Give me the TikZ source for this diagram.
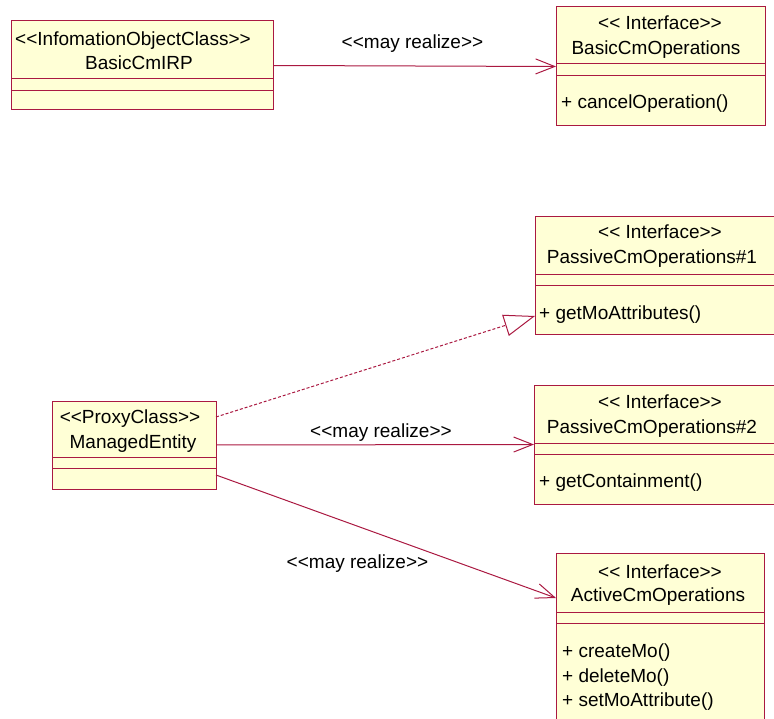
\documentclass[tikz,border=0pt]{standalone}
\usepackage{fontspec}
\newfontfamily\umlfont{Liberation Sans}
\usetikzlibrary{arrows.meta}
\definecolor{umlline}{RGB}{170,25,65}
\definecolor{umlfill}{RGB}{255,255,214}
\tikzset{
  umlbox/.style={draw=umlline, fill=umlfill, line width=1pt, anchor=north west, inner sep=0pt, outer sep=0pt, rectangle},
  sepline/.style={draw=umlline, line width=1pt},
  txt/.style={inner sep=0pt, anchor=base, font=\umlfont\fontsize{19}{23}\selectfont, text=black},
  optxt/.style={txt, anchor=base west},
  conn/.style={draw=umlline, line width=1pt},
  realize/.style={conn, -{Straight Barb[length=19pt,width=15pt,line width=1pt]}},
  generalize/.style={conn, dash pattern=on 3pt off 2pt, -{Triangle[open,length=31pt,width=22pt,line width=1pt,fill=white]}}
}
\begin{document}
\begin{tikzpicture}[x=1pt,y=-1pt]
\useasboundingbox (0,0) rectangle (774,719);
\clip (0,0) rectangle (774,719);

% Boxes
\node[umlbox, minimum width=262pt, minimum height=89pt] (irp) at (11,21) {};
\node[umlbox, minimum width=209pt, minimum height=119pt] (bops) at (556,7) {};
\node[umlbox, minimum width=250pt, minimum height=118pt] (p1) at (535,217) {};
\node[umlbox, minimum width=164pt, minimum height=88pt] (me) at (52,401) {};
\node[umlbox, minimum width=251pt, minimum height=119pt] (p2) at (534,385) {};
\node[umlbox, minimum width=208pt, minimum height=200pt] (act) at (556,553) {};

% Separators
\foreach \b/\a/\c in {irp/58/70, bops/57/69, p1/58/69, me/56/67, p2/58/69, act/59/70}{
  \draw[sepline] ([yshift=-\a pt]\b.north west) -- ([yshift=-\a pt]\b.north east);
  \draw[sepline] ([yshift=-\c pt]\b.north west) -- ([yshift=-\c pt]\b.north east);
}

% Texts
\node[txt] (irpS) at (133,46) {<<InfomationObjectClass>>};
\node[txt] (irpN) at (139,70) {BasicCmIRP};

\node[txt] (bopsS) at (660,29.5) {<< Interface>>};
\node[txt] (bopsN) at (656,55) {BasicCmOperations};
\node[optxt] (bopsO) at (561,109) {+ cancelOperation()};

\node[txt] (p1S) at (660,239) {<< Interface>>};
\node[txt] (p1N) at (652,264) {PassiveCmOperations\#1};
\node[optxt] (p1O) at (539,320) {+ getMoAttributes()};

\node[txt] (meS) at (130,423) {<<ProxyClass>>};
\node[txt] (meN) at (133,448) {ManagedEntity};

\node[txt] (p2S) at (660,408) {<< Interface>>};
\node[txt] (p2N) at (652,433) {PassiveCmOperations\#2};
\node[optxt] (p2O) at (539,487) {+ getContainment()};

\node[txt] (actS) at (660,578) {<< Interface>>};
\node[txt] (actN) at (658,601) {ActiveCmOperations};
\node[optxt] (actO1) at (562,657) {+ createMo()};
\node[optxt] (actO2) at (562,682) {+ deleteMo()};
\node[optxt] (actO3) at (562,706) {+ setMoAttribute()};

% Connectors
\draw[realize] (irp.east) -- (bops.west);
\node[txt] (l1) at (412.5,49) {<<may realize>>};

\draw[generalize] ([yshift=28pt]me.east) -- ([yshift=19pt]p1.south west);

\draw[realize] (me.east) -- (p2.west);
\node[txt] (l2) at (381,437) {<<may realize>>};

\draw[realize] ([yshift=-30pt]me.east) -- ([yshift=-45pt]act.north west);
\node[txt] (l3) at (357.5,568) {<<may realize>>};
\end{tikzpicture}
\end{document}
